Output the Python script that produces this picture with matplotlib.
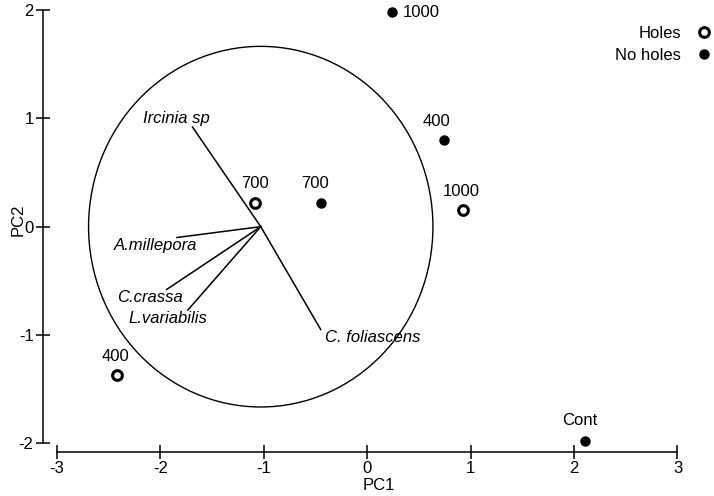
import matplotlib
matplotlib.use("Agg")
import matplotlib.pyplot as plt
from matplotlib.patches import Circle

plt.rcParams['font.family'] = ['Liberation Sans', 'DejaVu Sans']
plt.rcParams['font.size'] = 12
plt.rcParams['axes.unicode_minus'] = False

# sample scores (PC1, PC2)
holes_x = [-1.09, 0.93, -2.42]
holes_y = [0.22, 0.15, -1.37]
holes_lab = ["700", "1000", "400"]

noholes_x = [-0.45, 0.74, 0.24, 2.11]
noholes_y = [0.22, 0.80, 1.98, -1.98]
noholes_lab = ["700", "400", "1000", "Cont"]

# species vectors, from the circle centre
origin = (-1.03, 0.0)
radius = 1.665
sp_names = ["Ircinia sp", "C. foliascens", "A.millepora", "C.crassa", "L.variabilis"]
sp_x = [-1.69, -0.45, -1.84, -1.94, -1.735]
sp_y = [0.92, -0.95, -0.10, -0.58, -0.77]

fig = plt.figure(figsize=(7.14, 4.96), dpi=100)
ax = fig.add_axes([0.0606, 0.0893, 0.9394, 0.9107])
ax.set_xlim(-3.133, 3.353)
ax.set_ylim(-2.078, 2.093)

ax.add_patch(Circle(origin, radius, fill=False, ec="black", lw=1.0))

for name, ex, ey in zip(sp_names, sp_x, sp_y):
    ax.plot([origin[0], ex], [origin[1], ey], color="black", lw=1.1)

# species labels (placed near vector tips)
ax.text(-1.85, 1.0, "Ircinia sp", style="italic", ha="center", va="center")
ax.text(-0.41, -1.02, "C. foliascens", style="italic", ha="left", va="center")
ax.text(-2.05, -0.175, "A.millepora", style="italic", ha="center", va="center")
ax.text(-2.10, -0.655, "C.crassa", style="italic", ha="center", va="center")
ax.text(-1.93, -0.85, "L.variabilis", style="italic", ha="center", va="center")

ax.plot(holes_x, holes_y, "o", ms=7, mfc="white", mec="black", mew=2.2,
        ls="none", label="Holes")
ax.plot(noholes_x, noholes_y, "o", ms=6.5, mfc="black", mec="black",
        ls="none", label="No holes")

hole_off = [(0, 19), (-2, 19), (-2, 19)]
for x, y, t, o in zip(holes_x, holes_y, holes_lab, hole_off):
    ax.annotate(t, (x, y), xytext=o, textcoords="offset pixels",
                ha="center", va="center")
nohole_off = [(-6, 19), (-7, 19), (11, 0), (-6, 21)]
for x, y, t, o in zip(noholes_x, noholes_y, noholes_lab, nohole_off):
    ax.annotate(t, (x, y), xytext=o, textcoords="offset pixels",
                ha="left" if t == "1000" else "center", va="center")

leg = ax.legend(loc="upper right", markerfirst=False, frameon=False,
                bbox_to_anchor=(1.013, 0.965), handlelength=1.0,
                handletextpad=0.9, labelspacing=0.45, borderaxespad=0.2)

for s in ["top", "right"]:
    ax.spines[s].set_visible(False)
ax.spines["left"].set_bounds(-2, 2)
ax.spines["bottom"].set_bounds(-3, 3)
ax.spines["left"].set_linewidth(1.1)
ax.spines["bottom"].set_linewidth(1.1)
ax.set_xticks([-3, -2, -1, 0, 1, 2, 3])
ax.set_yticks([-2, -1, 0, 1, 2])
ax.tick_params(direction="inout", length=10, width=1.1, pad=2)

ax.set_xlabel("PC1", labelpad=1)
ax.set_ylabel("PC2")
ax.yaxis.set_label_coords(-0.027, 0.513)

fig.savefig("out.png", dpi=100)
